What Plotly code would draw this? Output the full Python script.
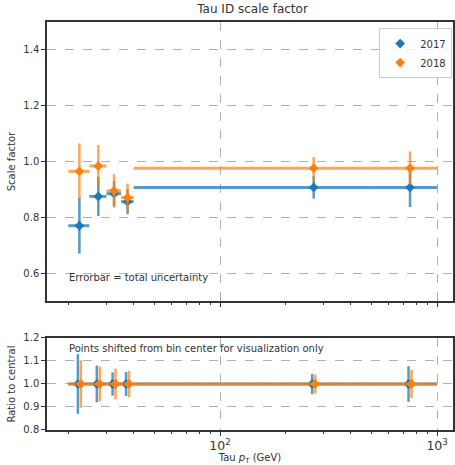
import plotly.graph_objects as go
from plotly.subplots import make_subplots

# ---- data ----
bin_edges = [20, 25, 30, 35, 40, 500, 1000]
sf_2017 = [0.77, 0.875, 0.885, 0.856, 0.907, 0.907]
err_2017 = [0.10, 0.07, 0.045, 0.045, 0.04, 0.07]
sf_2018 = [0.965, 0.984, 0.895, 0.871, 0.976, 0.976]
err_2018 = [0.10, 0.075, 0.06, 0.05, 0.04, 0.06]
years = ["2017", "2018"]
shift = [1 / 1.016, 1.016]

centers = [(a + b) / 2 for a, b in zip(bin_edges[:-1], bin_edges[1:])]
lo = [c - a for c, a in zip(centers, bin_edges[:-1])]
hi = [b - c for c, b in zip(centers, bin_edges[1:])]

colors = ["#1f77b4", "#ff7f0e"]
ecolors = ["rgba(31,119,180,0.75)", "rgba(255,127,14,0.7)"]

fig = make_subplots(rows=2, cols=1, shared_xaxes=False)

for i, (sf, err) in enumerate([(sf_2017, err_2017), (sf_2018, err_2018)]):
    fig.add_trace(go.Scatter(
        x=centers, y=sf, mode="markers", name=years[i],
        marker=dict(symbol="diamond", size=7.5, color=colors[i]),
        error_x=dict(type="data", symmetric=False, array=hi, arrayminus=lo,
                     color=ecolors[i], thickness=3, width=0),
        error_y=dict(type="data", array=err, color=ecolors[i], thickness=2.5, width=0),
    ), row=1, col=1)
    xs = [c * shift[i] for c in centers]
    fig.add_trace(go.Scatter(
        x=xs, y=[1.0] * len(sf), mode="markers", showlegend=False,
        marker=dict(symbol="diamond", size=7.5, color=colors[i]),
        error_x=dict(type="data", symmetric=False,
                     array=[b - x for b, x in zip(bin_edges[1:], xs)],
                     arrayminus=[x - a for a, x in zip(bin_edges[:-1], xs)],
                     color=ecolors[i], thickness=3, width=0),
        error_y=dict(type="data", array=[e / v for e, v in zip(err, sf)],
                     color=ecolors[i], thickness=2.5, width=0),
    ), row=2, col=1)

grid = dict(showgrid=True, gridcolor="#b0b0b0", griddash="dash", gridwidth=1)
axcommon = dict(showline=True, linecolor="#333", linewidth=1.5, mirror=True,
                ticks="outside", ticklen=4, tickcolor="#333", zeroline=False,
                tickfont=dict(size=10, color="#333"))
xcommon = dict(type="log", range=[1.203, 3.073], tickmode="linear", tick0=0, dtick=1,
               exponentformat="power",
               minor=dict(dtick="D1", ticks="outside", ticklen=2.5,
                          tickcolor="#333", showgrid=False),
               **grid, **axcommon)

fig.update_xaxes(showticklabels=False, row=1, col=1, **xcommon)
fig.update_xaxes(row=2, col=1,
                 title=dict(text="Tau <i>p</i><sub>T</sub> (GeV)", font=dict(size=10, color="#333"),
                            standoff=4),
                 **xcommon)
fig.update_yaxes(range=[0.5, 1.5], tickvals=[0.6, 0.8, 1.0, 1.2, 1.4],
                 ticktext=["0.6", "0.8", "1.0", "1.2", "1.4"],
                 title=dict(text="Scale factor", font=dict(size=10, color="#333"), standoff=6),
                 row=1, col=1, **grid, **axcommon)
fig.update_yaxes(range=[0.8, 1.2], tickvals=[0.8, 0.9, 1.0, 1.1, 1.2],
                 ticktext=["0.8", "0.9", "1.0", "1.1", "1.2"],
                 title=dict(text="Ratio to central", font=dict(size=10, color="#333"), standoff=6),
                 row=2, col=1, **grid, **axcommon)

fig.update_layout(
    width=455, height=465,
    margin=dict(l=47, r=0, t=22, b=35),
    plot_bgcolor="white", paper_bgcolor="white",
    font=dict(family="DejaVu Sans", size=10, color="#333"),
    xaxis=dict(domain=[0, 1]), xaxis2=dict(domain=[0, 1]),
    yaxis=dict(domain=[0.316, 1.0]), yaxis2=dict(domain=[0.0, 0.2255]),
    legend=dict(x=0.998, y=0.985, xanchor="right", yanchor="top",
                bgcolor="rgba(255,255,255,0.8)", bordercolor="#ccc", borderwidth=1,
                font=dict(size=10, color="#333"),
                tracegroupgap=0),
    title=dict(text="Tau ID scale factor", x=0.555, xanchor="center", y=0.99, yanchor="top",
               font=dict(size=12, color="#333")),
    showlegend=True,
)
fig.add_annotation(text="Errorbar = total uncertainty", xref="paper", yref="paper",
                   x=0.05, y=0.375, xanchor="left", yanchor="middle", showarrow=False,
                   font=dict(size=10, color="#333"))
fig.add_annotation(text="Points shifted from bin center for visualization only", xref="paper",
                   yref="paper", x=0.05, y=0.2, xanchor="left", yanchor="middle",
                   showarrow=False, font=dict(size=10, color="#333"))

fig.write_html("out.html")
